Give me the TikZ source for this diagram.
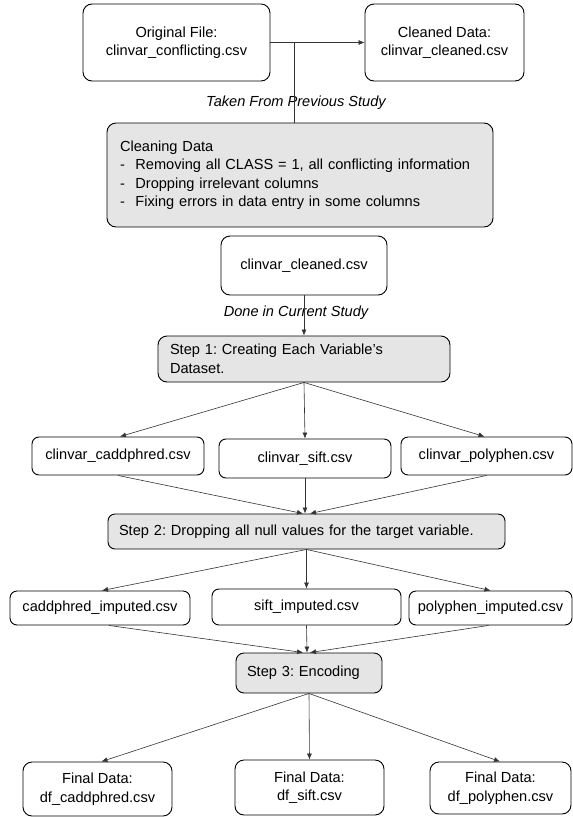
\documentclass[tikz,border=0pt]{standalone}
\usepackage{fontspec}
\setmainfont{Liberation Sans}
\usetikzlibrary{arrows.meta,calc}
\frenchspacing
\begin{document}
\begin{tikzpicture}[x=1pt,y=-1pt,
  every node/.style={font=\fontsize{14.6}{18.5}\selectfont},
  box/.style={draw=black,line width=0.9pt,rounded corners=9pt,align=center,inner sep=0pt},
  gbox/.style={box,fill=black!10},
  edge/.style={draw=black!80,line width=0.6pt},
  arr/.style={edge,-{Latex[length=6pt,width=5pt]}},
  lbl/.style={font=\fontsize{14.6}{18.5}\selectfont\itshape,inner sep=1pt}]
\useasboundingbox (0,0) rectangle (573,817);

\node[box,minimum width=187pt,minimum height=77pt] (orig) at (176.5,42.5) {Original File:\\clinvar\_conflicting.csv};
\node[box,minimum width=159pt,minimum height=77pt] (cleaned) at (444.5,42.5) {Cleaned Data:\\clinvar\_cleaned.csv};
\node[gbox,minimum width=386pt,minimum height=104pt,align=left,text width=360pt] (clean) at (300,175)
  {Cleaning Data\\
   -\hspace{10.5pt}Removing all CLASS = 1, all conflicting information\\
   -\hspace{10.5pt}Dropping irrelevant columns\\
   -\hspace{10.5pt}Fixing errors in data entry in some columns};
\coordinate (jn) at (294,42.5);
\node[lbl] (prev) at (296,103) {Taken From Previous Study};

\node[box,minimum width=166pt,minimum height=59pt] (ccsv) at (304,265.5) {clinvar\_cleaned.csv};
\node[lbl] (curr) at (296,313) {Done in Current Study};
\node[gbox,minimum width=292pt,minimum height=46pt,align=left,text width=268pt] (step1) at (304,359)
  {Step 1: Creating Each Variable’s\\Dataset.};

\node[box,minimum width=172pt,minimum height=38pt,rounded corners=7pt] (cadd) at (118,456) {clinvar\_caddphred.csv};
\node[box,minimum width=172pt,minimum height=39pt,rounded corners=7pt] (sift) at (305,458.5) {clinvar\_sift.csv};
\node[box,minimum width=171pt,minimum height=38pt,rounded corners=7pt] (poly) at (486.5,456) {clinvar\_polyphen.csv};

\node[gbox,minimum width=397pt,minimum height=35pt,align=left,text width=375pt,rounded corners=7pt] (step2) at (306.5,531.5)
  {Step 2: Dropping all null values for the target variable.};

\node[box,minimum width=180pt,minimum height=34pt,rounded corners=7pt] (cimp) at (100,608) {caddphred\_imputed.csv};
\node[box,minimum width=189pt,minimum height=36pt,rounded corners=7pt] (simp) at (306.5,607) {sift\_imputed.csv};
\node[box,minimum width=163pt,minimum height=34pt,rounded corners=7pt] (pimp) at (490.5,608) {polyphen\_imputed.csv};

\node[gbox,minimum width=146pt,minimum height=40pt,align=left,text width=124pt,rounded corners=8pt] (step3) at (309,673)
  {Step 3: Encoding};

\node[box,minimum width=149pt,minimum height=54pt] (fcadd) at (97.5,789) {Final Data:\\df\_caddphred.csv};
\node[box,minimum width=149pt,minimum height=55pt] (fsift) at (309.5,787.5) {Final Data:\\df\_sift.csv};
\node[box,minimum width=141pt,minimum height=52pt] (fpoly) at (500.5,788) {Final Data:\\df\_polyphen.csv};

% connectors
\draw[arr] (orig.east) -- (cleaned.west);
\draw[edge] (jn) -- (jn |- clean.north);
\draw[arr] (ccsv.south) -- (step1.north);

\draw[arr] (step1.south) -- ([xshift=2pt]cadd.north);
\draw[arr] (step1.south) -- (sift.north);
\draw[arr] (step1.south) -- ([xshift=-2pt]poly.north);

\draw[arr] (cadd.south) -- ([xshift=-3.5pt]step2.north);
\draw[arr] (sift.south) -- ([xshift=-1.5pt]step2.north);
\draw[arr] (poly.south) -- ([xshift=3.5pt]step2.north);

\draw[arr] (step2.south) -- ([xshift=2pt]cimp.north);
\draw[arr] (step2.south) -- (simp.north);
\draw[arr] (step2.south) -- ([xshift=0pt]pimp.north);

\draw[arr] ([xshift=9pt]cimp.south) -- ([xshift=-6pt]step3.north);
\draw[arr] (simp.south) -- ([xshift=-2pt]step3.north);
\draw[arr] ([xshift=-2pt]pimp.south) -- ([xshift=1pt]step3.north);

\draw[arr] (step3.south) -- ([xshift=4pt]fcadd.north);
\draw[arr] (step3.south) -- (fsift.north);
\draw[arr] (step3.south) -- ([xshift=-0.5pt]fpoly.north);
\end{tikzpicture}
\end{document}
